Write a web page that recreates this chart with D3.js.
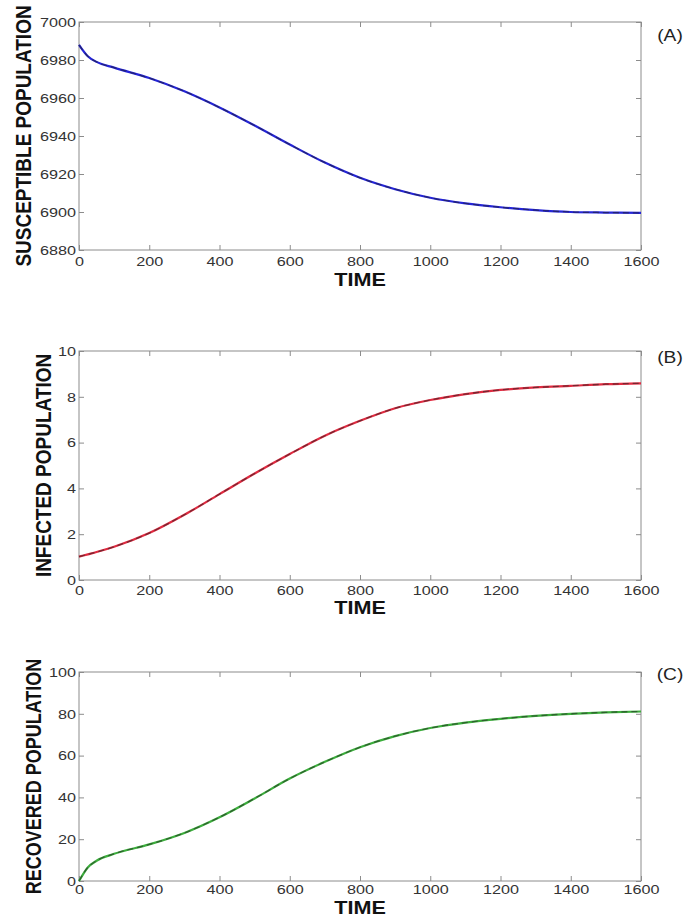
<!DOCTYPE html>
<html>
<head>
<meta charset="utf-8">
<script src="https://d3js.org/d3.v7.min.js"></script>
<style>
  body { margin: 0; background: #fff; }
  svg { display: block; }
  text { font-family: "Liberation Sans", Arial, sans-serif; }
</style>
</head>
<body>
<svg id="chart"></svg>
<script>
// data
const time = [0, 25, 50, 100, 200, 300, 400, 500, 600, 700, 800, 900, 1000, 1100, 1200, 1300, 1400, 1500, 1600];
const susceptible = [6988, 6982, 6979, 6976, 6970.5, 6963.5, 6955, 6945.5, 6935.5, 6926, 6918, 6912, 6907.5, 6904.5, 6902.5, 6901, 6900, 6899.7, 6899.5];
const infected = [1.02, 1.12, 1.22, 1.45, 2.05, 2.85, 3.75, 4.65, 5.5, 6.3, 6.95, 7.5, 7.86, 8.12, 8.3, 8.41, 8.48, 8.55, 8.59];
const recovered = [0, 6.5, 9.7, 13, 17.5, 23, 30.5, 39.5, 49, 57, 64, 69.3, 73.2, 75.8, 77.6, 79, 80, 80.7, 81.1];

const xTicks = [0, 200, 400, 600, 800, 1000, 1200, 1400, 1600];
const sTicks = [6880, 6900, 6920, 6940, 6960, 6980, 7000];
const iTicks = [0, 2, 4, 6, 8, 10];
const rTicks = [0, 20, 40, 60, 80, 100];

const width = 686;
const height = 917;
const stretch = 1.2; // the source picture is widened a bit

const panels = [
  { values: susceptible, ticks: sTicks, domain: [6880, 7000], top: 22, bottom: 250,
    title: 'SUSCEPTIBLE POPULATION', titleX: 23, titleSize: 19, tag: '(A)', tagY: 41,
    color: '#2424d8', timeY: 286, pad: 6 },
  { values: infected, ticks: iTicks, domain: [0, 10], top: 351, bottom: 580,
    title: 'INFECTED POPULATION', titleX: 43, titleSize: 19, tag: '(B)', tagY: 363,
    color: '#e02a40', timeY: 614, pad: 5 },
  { values: recovered, ticks: rTicks, domain: [0, 100], top: 672, bottom: 881,
    title: 'RECOVERED POPULATION', titleX: 33, titleSize: 18, tag: '(C)', tagY: 680,
    color: '#3cae3c', timeY: 914, pad: 3 }
];

const left = 79;
const right = 641;
const axisColor = '#8c8c8c';

const svg = d3.select('#chart')
  .attr('width', width)
  .attr('height', height);

const x = d3.scaleLinear().domain([0, 1600]).range([left, right]);

panels.forEach(function(p) {
  const y = d3.scaleLinear().domain(p.domain).range([p.bottom, p.top]);
  const g = svg.append('g');

  // box
  g.append('rect')
    .attr('x', left).attr('y', p.top)
    .attr('width', right - left).attr('height', p.bottom - p.top)
    .attr('fill', 'none').attr('stroke', axisColor).attr('stroke-width', 1);

  // axes with inward ticks (matlab style)
  const bottomAxis = g.append('g')
    .attr('transform', `translate(0,${p.bottom})`)
    .call(d3.axisBottom(x).tickValues(xTicks).tickSizeInner(-5).tickSizeOuter(0).tickPadding(p.pad).tickFormat(d3.format('d')));
  const leftAxis = g.append('g')
    .attr('transform', `translate(${left},0)`)
    .call(d3.axisLeft(y).tickValues(p.ticks).tickSizeInner(-5).tickSizeOuter(0).tickPadding(3).tickFormat(d3.format('d')));
  g.append('g')
    .attr('transform', `translate(0,${p.top})`)
    .call(d3.axisTop(x).tickValues(xTicks).tickSizeInner(-5).tickSizeOuter(0).tickFormat(''));
  g.append('g')
    .attr('transform', `translate(${right},0)`)
    .call(d3.axisRight(y).tickValues(p.ticks).tickSizeInner(-5).tickSizeOuter(0).tickFormat(''));

  g.selectAll('.domain').remove();
  g.selectAll('.tick line').attr('stroke', axisColor);

  bottomAxis.selectAll('text')
    .attr('font-size', 13.5).attr('fill', '#333')
    .attr('transform', `scale(${stretch},1)`);
  leftAxis.selectAll('text')
    .attr('font-size', 13.5).attr('fill', '#333')
    .attr('x', -3 / stretch)
    .attr('transform', `scale(${stretch},1)`);

  // curve: coloured line with dark dashes on top
  const line = d3.line()
    .x((d, i) => x(time[i]))
    .y(d => y(d))
    .curve(d3.curveMonotoneX);

  g.append('path')
    .attr('d', line(p.values))
    .attr('fill', 'none')
    .attr('stroke', p.color)
    .attr('stroke-width', 2.2);
  g.append('path')
    .attr('d', line(p.values))
    .attr('fill', 'none')
    .attr('stroke', '#222')
    .attr('stroke-opacity', 0.55)
    .attr('stroke-width', 1.3)
    .attr('stroke-dasharray', '6,4');

  // titles
  g.append('text')
    .attr('transform', `translate(${p.titleX},${(p.top + p.bottom) / 2}) rotate(-90) scale(1,${stretch})`)
    .attr('text-anchor', 'middle')
    .attr('dy', '0.36em')
    .attr('font-size', p.titleSize)
    .attr('font-weight', 'bold')
    .attr('fill', '#111')
    .text(p.title);

  g.append('text')
    .attr('transform', `translate(${(left + right) / 2},${p.timeY}) scale(${stretch},1)`)
    .attr('text-anchor', 'middle')
    .attr('font-size', 18)
    .attr('font-weight', 'bold')
    .attr('fill', '#111')
    .text('TIME');

  g.append('text')
    .attr('transform', `translate(670,${p.tagY}) scale(${stretch},1)`)
    .attr('text-anchor', 'middle')
    .attr('font-size', 16)
    .attr('fill', '#222')
    .text(p.tag);
});
</script>
</body>
</html>
